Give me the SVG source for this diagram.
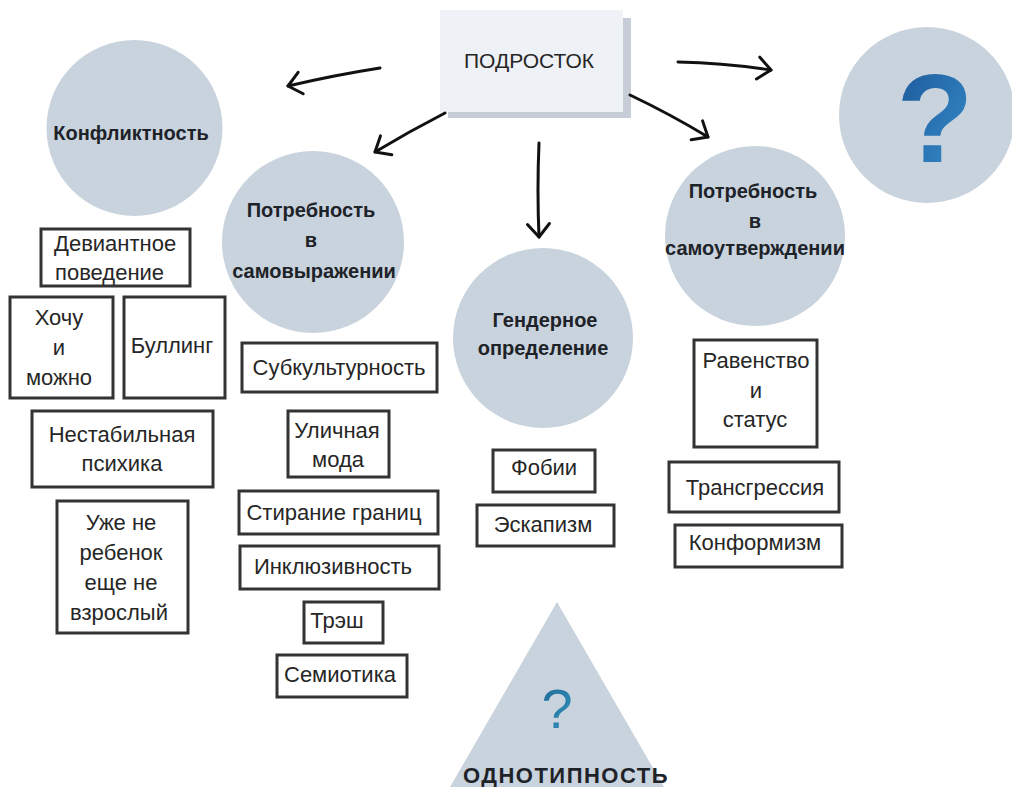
<svg xmlns="http://www.w3.org/2000/svg" width="1012" height="787" viewBox="0 0 1012 787">
<defs>
<marker id="ah" markerUnits="userSpaceOnUse" markerWidth="24" markerHeight="24" viewBox="0 0 24 24" refX="21" refY="12" orient="auto" overflow="visible">
<path d="M8,1 L21,12 L8,23" fill="none" stroke="#111" stroke-width="3" stroke-linecap="round" stroke-linejoin="round"/>
</marker>
<linearGradient id="qg" x1="0" y1="0" x2="1" y2="1">
<stop offset="0" stop-color="#1a5597"/>
<stop offset="1" stop-color="#3a92cf"/>
</linearGradient>
<linearGradient id="qg2" x1="0" y1="0" x2="1" y2="1">
<stop offset="0" stop-color="#1f6a96"/>
<stop offset="1" stop-color="#3591bd"/>
</linearGradient>
<style>
.circ{fill:#c9d3dd}
.box{fill:#fff;stroke:#333;stroke-width:3}
.bt{font-family:"Liberation Sans",Arial,sans-serif;font-size:22px;fill:#262626;text-anchor:middle}
.ct{font-family:"Liberation Sans",Arial,sans-serif;font-size:20px;font-weight:bold;fill:#1e2329;text-anchor:middle}
.conn path{fill:none;stroke:#111;stroke-width:3;stroke-linecap:round;marker-end:url(#ah)}
</style>
</defs>
<rect width="1012" height="787" fill="#fff"/>

<g id="podrostok">
<rect x="448" y="18" width="183" height="100" fill="#c6cdd6"/>
<rect x="440" y="10" width="183" height="102" fill="#eef1f5"/>
<text x="529" y="68" class="bt" style="font-size:21px">ПОДРОСТОК</text>
</g>

<g class="conn" id="connectors">
<path d="M380,68 Q335,75 288,86"/>
<path d="M445,113 Q410,131 375,152"/>
<path d="M539,143 Q537,190 539,237"/>
<path d="M630,95 Q670,114 708,137"/>
<path d="M678,62 Q725,63 771,70"/>
</g>

<g id="konfliktnost">
<circle class="circ" cx="134.5" cy="128" r="88"/>
<text class="ct" x="131" y="140">Конфликтность</text>
</g>

<g id="samovyrazhenie">
<circle class="circ" cx="313" cy="242" r="91"/>
<text class="ct" x="311" y="217">Потребность</text>
<text class="ct" x="311" y="247">в</text>
<text class="ct" x="314" y="278">самовыражении</text>
</g>

<g id="gender">
<circle class="circ" cx="543" cy="338" r="90"/>
<text class="ct" x="545" y="327">Гендерное</text>
<text class="ct" x="543" y="355">определение</text>
</g>

<g id="samoutverzhdenie">
<circle class="circ" cx="755" cy="236" r="90"/>
<text class="ct" x="753" y="198">Потребность</text>
<text class="ct" x="755" y="228">в</text>
<text class="ct" x="755" y="255">самоутверждении</text>
</g>

<g id="question">
<circle class="circ" cx="927" cy="115" r="88"/>
<text x="935" y="162" text-anchor="middle" font-family="'Liberation Sans',Arial,sans-serif" font-size="126" font-weight="bold" fill="url(#qg)">?</text>
</g>

<g id="odnotipnost">
<polygon class="circ" points="557,602 450,787 664,787"/>
<text x="557" y="728" text-anchor="middle" font-family="'Liberation Sans',Arial,sans-serif" font-size="56" fill="url(#qg2)">?</text>
<text x="566" y="783" text-anchor="middle" font-family="'Liberation Sans',Arial,sans-serif" font-size="22" font-weight="bold" letter-spacing="1.5" fill="#1e2329">ОДНОТИПНОСТЬ</text>
</g>

<g id="deviant">
<rect class="box" x="41" y="229" width="149" height="57"/>
<text class="bt" x="54" y="251" text-anchor="start" style="text-anchor:start">Девиантное</text>
<text class="bt" x="55" y="280" style="text-anchor:start">поведение</text>
</g>
<g id="hochu">
<rect class="box" x="10" y="297" width="103" height="101"/>
<text class="bt" x="59" y="325">Хочу</text>
<text class="bt" x="59" y="355">и</text>
<text class="bt" x="59" y="385">можно</text>
</g>
<g id="bulling">
<rect class="box" x="124" y="297" width="101" height="101"/>
<text class="bt" x="172" y="353">Буллинг</text>
</g>
<g id="nestabil">
<rect class="box" x="32" y="411" width="181" height="76"/>
<text class="bt" x="122" y="442">Нестабильная</text>
<text class="bt" x="122" y="471">психика</text>
</g>
<g id="uzhe">
<rect class="box" x="57" y="501" width="131" height="132"/>
<text class="bt" x="121" y="530">Уже не</text>
<text class="bt" x="121" y="560">ребенок</text>
<text class="bt" x="121" y="590">еще не</text>
<text class="bt" x="119" y="620">взрослый</text>
</g>

<g id="subkult">
<rect class="box" x="242" y="343" width="195" height="49"/>
<text class="bt" x="339" y="375">Субкультурность</text>
</g>
<g id="ulichnaya">
<rect class="box" x="288" y="411" width="101" height="66"/>
<text class="bt" x="337" y="438">Уличная</text>
<text class="bt" x="338" y="467">мода</text>
</g>
<g id="stiranie">
<rect class="box" x="239" y="491" width="199" height="43"/>
<text class="bt" x="334" y="520">Стирание границ</text>
</g>
<g id="inkluziv">
<rect class="box" x="240" y="546" width="199" height="43"/>
<text class="bt" x="333" y="574">Инклюзивность</text>
</g>
<g id="tresh">
<rect class="box" x="304" y="602" width="79" height="41"/>
<text class="bt" x="337" y="628">Трэш</text>
</g>
<g id="semiotika">
<rect class="box" x="277" y="655" width="130" height="42"/>
<text class="bt" x="340" y="682">Семиотика</text>
</g>

<g id="fobii">
<rect class="box" x="493" y="450" width="102" height="42"/>
<text class="bt" x="544" y="475">Фобии</text>
</g>
<g id="eskapizm">
<rect class="box" x="477" y="505" width="137" height="41"/>
<text class="bt" x="543" y="532">Эскапизм</text>
</g>

<g id="ravenstvo">
<rect class="box" x="694" y="340" width="123" height="107"/>
<text class="bt" x="756" y="368">Равенство</text>
<text class="bt" x="756" y="398">и</text>
<text class="bt" x="755" y="427">статус</text>
</g>
<g id="transgressia">
<rect class="box" x="669" y="462" width="170" height="50"/>
<text class="bt" x="755" y="495">Трансгрессия</text>
</g>
<g id="konformizm">
<rect class="box" x="675" y="525" width="167" height="42"/>
<text class="bt" x="755" y="550">Конформизм</text>
</g>
</svg>
